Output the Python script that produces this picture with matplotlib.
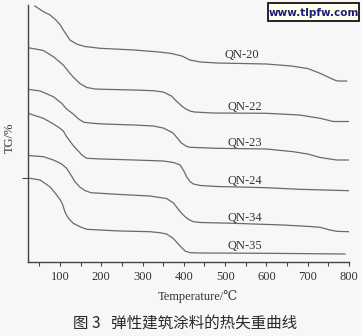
import matplotlib.pyplot as plt
from matplotlib.patches import Rectangle

# TG curves (temperature in C, TG as relative height, curves stacked)
t_qn20 = [39, 60, 76, 90, 100, 108, 116, 124, 140, 160, 197, 280, 340, 370, 395, 415, 440, 480, 600, 660, 700, 730, 762, 772, 794]
tg_qn20 = [256, 250.3, 247, 242, 237.5, 232, 227, 222, 218, 215.5, 213.7, 212, 210, 208.5, 206, 202, 200, 199, 198, 196, 193.5, 188.7, 182.5, 181, 181]

t_qn22 = [22.5, 40, 60, 84, 108, 124, 132, 148, 165, 185, 205, 278, 326, 350, 370, 383, 395, 405, 415, 425, 470, 600, 680, 730, 762, 800]
tg_qn22 = [214.3, 213, 211.5, 205.3, 197, 188.7, 185, 178.5, 174.5, 173, 172.7, 172, 171.3, 170, 166, 160.5, 156, 153, 151, 150, 149, 148.7, 147, 143.7, 140.5, 140.5]

t_qn23 = [22.5, 52, 84, 104, 116, 132, 145, 158, 180, 205, 280, 326, 350, 374, 394, 405, 415, 480, 600, 665, 700, 730, 770, 800]
tg_qn23 = [172.7, 171, 165.3, 158.7, 153, 148, 143, 139.7, 138.7, 138, 137, 136, 134, 129, 119, 116, 114.7, 113.7, 113, 110.3, 108, 104.5, 102, 102]

t_qn24 = [22.5, 60, 84, 100, 108, 116, 132, 153, 165, 200, 280, 350, 375, 391, 400, 407, 415, 423, 440, 480, 600, 680, 800]
tg_qn24 = [148.7, 143.7, 138, 133.7, 131, 125.3, 116.5, 107, 103.7, 103, 102, 101, 99.5, 97, 91, 85, 80.5, 78, 76.5, 75.5, 74.3, 72.7, 71.3]

t_qn34 = [22.5, 60, 84, 104, 116, 128, 136, 148, 160, 175, 237, 318, 358, 375, 391, 403, 411, 423, 440, 520, 640, 705, 730, 754, 770, 800]
tg_qn34 = [106.5, 105.3, 102, 98, 93.7, 86, 80.3, 75, 71.5, 69.3, 67.7, 66, 63.5, 59, 50.3, 45.3, 42.7, 40.3, 39.5, 38.7, 37, 35.5, 34.7, 32, 30.7, 30.3]

t_qn35 = [22.5, 52, 76, 90, 100, 106, 112, 120, 132, 150, 165, 197, 245, 318, 342, 358, 374, 391, 403, 415, 440, 600, 790]
tg_qn35 = [84, 82, 75, 68, 62.5, 58, 50, 44, 38.7, 35, 32.7, 32, 31, 30.3, 29.3, 28, 23.7, 16, 11, 9.3, 9, 8.7, 8]

curve_names = ['QN-20', 'QN-22', 'QN-23', 'QN-24', 'QN-34', 'QN-35']
label_t = [540, 548, 548, 548, 548, 548]
label_tg = [207, 154.7, 118.7, 81.3, 43.7, 16]

x_major = [100, 200, 300, 400, 500, 600, 700, 800]
x_minor = [50, 150, 250, 350, 450, 550, 650, 750]

W, H = 362, 336
bg = '#f7f7f7'
serif = ['Liberation Serif', 'DejaVu Serif']

fig = plt.figure(figsize=(W / 100, H / 100), dpi=100, facecolor=bg)
ax = fig.add_axes([28 / W, 1 - 262 / H, (349 - 28) / W, (262 - 5) / H])
ax.set_facecolor(bg)

curves = [(t_qn20, tg_qn20), (t_qn22, tg_qn22), (t_qn23, tg_qn23),
          (t_qn24, tg_qn24), (t_qn34, tg_qn34), (t_qn35, tg_qn35)]
for t, tg in curves:
    ax.plot(t, tg, color='#6a6a6a', lw=0.9)

for name, lt, lv in zip(curve_names, label_t, label_tg):
    ax.text(lt, lv, name, ha='center', va='center', fontsize=9,
            family=serif, color='#333333')

ax.set_xlim(22.5, 800)
ax.set_ylim(0, 257)
ax.spines['top'].set_visible(False)
ax.spines['right'].set_visible(False)
for s in ['left', 'bottom']:
    ax.spines[s].set_color('#444444')
    ax.spines[s].set_linewidth(1.0)

ax.set_xticks(x_major)
ax.set_xticks(x_minor, minor=True)
ax.set_xticklabels([str(v) for v in x_major], family=serif, fontsize=9, color='#333333')
ax.tick_params(axis='x', which='both', direction='out', length=3, width=0.8,
               color='#444444', pad=3.5)
ax.set_yticks([84])
ax.set_yticklabels([])
ax.tick_params(axis='y', direction='out', length=4, width=0.8, color='#444444')

fig.text(198 / W, 1 - 297 / H, 'Temperature/℃', ha='center', va='center',
         fontsize=9, family=serif, color='#333333')
fig.text(10 / W, 1 - 138 / H, 'TG/%', ha='center', va='center', rotation=90,
         fontsize=9, family=serif, color='#333333')
fig.text(185 / W, 1 - 323 / H, '图 3   弹性建筑涂料的热失重曲线', ha='center', va='center',
         fontsize=11.2, family=['Noto Sans CJK SC', 'DejaVu Sans'], color='#2a2a2a')

# watermark box top right
fig.patches.append(Rectangle((268 / W, 1 - 21 / H), 91 / W, 18 / H, transform=fig.transFigure,
                             facecolor='#ffffee', edgecolor='black', lw=1.2))
fig.text(313.5 / W, 1 - 12.5 / H, 'www.tlpfw.com', ha='center', va='center',
         fontsize=7.5, weight='bold', family='DejaVu Sans', color='#1c1c7a')

fig.savefig('out.png', dpi=100, facecolor=bg)
